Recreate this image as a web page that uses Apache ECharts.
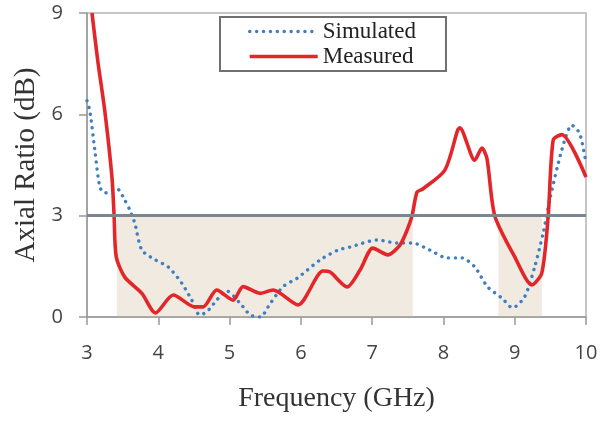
<!DOCTYPE html>
<html><head><meta charset="utf-8">
<script src="https://cdn.jsdelivr.net/npm/echarts@6/dist/echarts.min.js"></script>
<style>html,body{margin:0;padding:0;background:#fff}#c{width:602px;height:426px}</style>
</head><body><div id="c"></div>
<script>
const simFreq = [3.0,3.04,3.11,3.18,3.25,3.42,3.53,3.6,3.67,3.77,3.96,4.14,4.33,4.47,4.58,4.68,4.82,4.96,5.15,5.29,5.43,5.57,5.75,5.95,6.27,6.52,6.69,7.07,7.35,7.57,7.81,8.05,8.26,8.44,8.62,8.82,8.97,9.14,9.28,9.4,9.49,9.66,9.8,9.91,10.0];
const simAR   = [6.4,6.1,4.94,3.85,3.67,3.8,3.46,3.17,2.78,1.98,1.69,1.48,1.0,0.5,0.06,0.15,0.5,0.77,0.4,0.06,0.0,0.4,0.9,1.15,1.69,1.98,2.07,2.28,2.19,2.19,1.98,1.75,1.75,1.48,0.89,0.56,0.27,0.6,1.48,2.49,3.46,4.94,5.68,5.44,4.55];
const measFreq = [3.07,3.15,3.25,3.35,3.38,3.41,3.53,3.77,3.96,4.21,4.51,4.63,4.82,5.05,5.19,5.43,5.61,5.96,6.31,6.41,6.65,6.83,7.01,7.22,7.39,7.49,7.56,7.63,7.71,8.02,8.2,8.23,8.44,8.54,8.61,8.72,9.0,9.24,9.38,9.47,9.54,9.66,10.0];
const measAR   = [9.0,7.6,6.1,4.14,3.0,1.78,1.18,0.7,0.12,0.65,0.3,0.3,0.8,0.5,0.9,0.7,0.8,0.36,1.36,1.33,0.89,1.39,2.04,1.84,2.13,2.57,3.0,3.7,3.79,4.35,5.53,5.6,4.64,5.0,4.7,3.0,1.78,0.95,1.3,3.0,5.24,5.4,4.14];
const bandRanges = [[3.42,7.57],[8.77,9.38]];
const threshold = 3;
const xTicks = {min:3,max:10,interval:1};
const yTicks = {min:0,max:9,interval:3};

const zip = (a,b)=>a.map((v,i)=>[v,b[i]]);
const chart = echarts.init(document.getElementById('c'),null,{renderer:'canvas'});
const serif = '"Liberation Serif","Times New Roman",serif';
const sans = '"Open Sans","Noto Sans",sans-serif';
chart.setOption({
  animation:false,
  backgroundColor:'#fff',
  grid:{left:87,right:16,top:13,bottom:109,show:true,borderColor:'#b4b4b4',borderWidth:1.5,backgroundColor:'transparent'},
  legend:{
    data:['Simulated','Measured'],orient:'vertical',left:220,top:17,
    padding:[3,30,3,28],itemGap:2,itemWidth:68,itemHeight:20,
    itemStyle:{opacity:0},lineStyle:{width:3.4},
    backgroundColor:'#fff',borderColor:'#707070',borderWidth:2,borderRadius:0,
    textStyle:{fontFamily:serif,fontSize:23,color:'#222',lineHeight:20}
  },
  xAxis:{type:'value',min:xTicks.min,max:xTicks.max,interval:xTicks.interval,
    name:'Frequency (GHz)',nameLocation:'middle',nameGap:68,
    nameTextStyle:{fontFamily:serif,fontSize:28,color:'#333'},
    axisLine:{lineStyle:{color:'#999',width:1.5}},
    axisTick:{show:true,length:8,lineStyle:{color:'#999',width:1.5}},
    axisLabel:{fontFamily:sans,fontSize:20,color:'#444',margin:26},
    splitLine:{show:false}},
  yAxis:{type:'value',min:yTicks.min,max:yTicks.max,interval:yTicks.interval,
    name:'Axial Ratio (dB)',nameLocation:'middle',nameGap:46,
    nameTextStyle:{fontFamily:serif,fontSize:29,color:'#333'},
    axisLine:{show:true,lineStyle:{color:'#999',width:1.5}},
    axisTick:{show:true,length:8,lineStyle:{color:'#999',width:1.5}},
    axisLabel:{fontFamily:sans,fontSize:20,color:'#444',margin:24},
    splitLine:{show:false}},
  series:[
    {name:'Simulated',type:'line',data:zip(simFreq,simAR),symbol:'none',showSymbol:false,
     smooth:0.25,z:2,
     lineStyle:{color:'#3f7fc0',width:3.4,type:[0.1,6.8],cap:'round'},itemStyle:{color:'#3f7fc0'}},
    {name:'Measured',type:'line',data:zip(measFreq,measAR),symbol:'none',showSymbol:false,
     smooth:0.25,z:3,
     lineStyle:{color:'#e3262a',width:3.6},itemStyle:{color:'#e3262a'}},
    {name:'band',type:'line',data:[],z:5,silent:true,
     markArea:{silent:true,itemStyle:{color:'rgba(205,185,155,0.3)'},
       data:bandRanges.map(r=>[{xAxis:r[0],yAxis:0},{xAxis:r[1],yAxis:threshold}])},
     markLine:{silent:true,symbol:'none',label:{show:false},
       lineStyle:{color:'#7b8590',width:3,type:'solid'},
       data:[{yAxis:threshold}]}}
  ]
});
</script></body></html>
